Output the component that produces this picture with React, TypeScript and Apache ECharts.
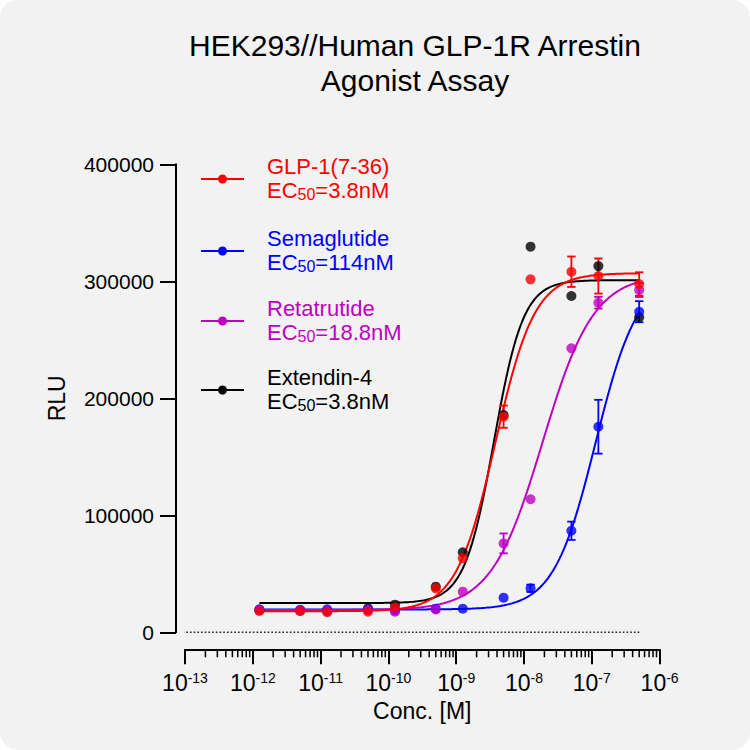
import React, { useEffect, useRef } from "react";
import * as echarts from "echarts";

// ---------- data ----------
const concentrations = [1.25e-12, 5e-12, 1.25e-11, 5e-11, 1.25e-10, 5e-10, 1.25e-9, 5e-9, 1.25e-8, 5e-8, 1.25e-7, 5e-7];

const seriesNames = ["GLP-1(7-36)", "Semaglutide", "Retatrutide", "Extendin-4"];
const ec50Labels = ["3.8nM", "114nM", "18.8nM", "3.8nM"];
const seriesColors = ["#ff0000", "#0000ff", "#c000c0", "#000000"];

const glpMean = [18200, 18200, 17100, 17600, 21400, 37600, 63200, 184300, 301700, 308200, 304500, 297700];
const glpErr = [0, 0, 0, 0, 0, 0, 0, 9500, 0, 13000, 15000, 10000];
const semaMean = [19700, 19200, 19700, 19500, 18600, 20200, 20200, 29600, 37600, 86800, 175700, 274000];
const semaErr = [0, 0, 0, 0, 0, 0, 0, 0, 3100, 7800, 23000, 9000];
const retaMean = [19300, 18800, 18500, 19000, 17600, 19500, 34700, 76000, 113700, 242700, 281700, 292600];
const retaErr = [0, 0, 0, 0, 0, 0, 0, 8500, 0, 0, 5000, 6000];
const exMean = [19000, 18500, 18000, 20500, 23600, 39000, 68400, 185700, 329600, 287400, 313000, 269200];
const exErr = [0, 0, 0, 0, 0, 0, 0, 0, 0, 0, 0, 0];

// four-parameter logistic fit parameters (GLP-1, Sema, Reta, Ex-4)
const fitBottom = [18000, 19500, 19000, 25000];
const fitTop = [307000, 305000, 306000, 301000];
const fitEC50 = [3.8e-9, 1.14e-7, 1.88e-8, 3.6e-9];
const fitHill = [1.5, 1.4, 1.15, 2.0];

const xDecades = [-13, -12, -11, -10, -9, -8, -7, -6];
const yTicks = [0, 100000, 200000, 300000, 400000];

const titleText = "HEK293//Human GLP-1R Arrestin\nAgonist Assay";
const xName = "Conc. [M]";
const yName = "RLU";

// ---------- layout / style ----------
const FONT = '"Liberation Sans", Arial, Helvetica, sans-serif';
const X_OFFSET = 17;

const means = [glpMean, semaMean, retaMean, exMean];
const errs = [glpErr, semaErr, retaErr, exErr];

function fourPL(x: number, i: number) {
  return fitBottom[i] + (fitTop[i] - fitBottom[i]) / (1 + Math.pow(fitEC50[i] / x, fitHill[i]));
}

function curveData(i: number) {
  const lo = Math.log10(concentrations[0]);
  const hi = Math.log10(concentrations[concentrations.length - 1]);
  const n = 200;
  const out: number[][] = [];
  for (let k = 0; k <= n; k++) {
    const x = Math.pow(10, lo + ((hi - lo) * k) / n);
    out.push([x, fourPL(x, i)]);
  }
  return out;
}

const minorTickValues: number[][] = [];
for (let d = 0; d < xDecades.length - 1; d++) {
  for (let k = 2; k <= 9; k++) minorTickValues.push([k * Math.pow(10, xDecades[d]), 0]);
}

function buildSeries() {
  const s: any[] = [];
  // baseline dotted line at y = 0
  s.push({
    type: "line",
    silent: true,
    symbol: "none",
    clip: false,
    data: [[Math.pow(10, xDecades[0]) * 0.92, 0], [concentrations[concentrations.length - 1] * 1.02, 0]],
    lineStyle: { color: "#222", width: 1.6, type: [1.6, 2.1] },
    z: 1,
  });
  // minor ticks of the log axis
  s.push({
    type: "custom",
    silent: true,
    clip: false,
    data: minorTickValues,
    renderItem: (params: any, api: any) => {
      const p = api.coord([api.value(0), 0]);
      const y0 = p[1] + X_OFFSET;
      return {
        type: "line",
        shape: { x1: p[0], y1: y0, x2: p[0], y2: y0 + 8 },
        style: { stroke: "#000", lineWidth: 1.5 },
      };
    },
    z: 5,
  });
  const order = [3, 1, 2, 0];
  order.forEach((i) => {
    const color = seriesColors[i];
    s.push({
      name: seriesNames[i] + " fit",
      type: "line",
      symbol: "none",
      silent: true,
      smooth: false,
      data: curveData(i),
      lineStyle: { color, width: 2 },
      z: 2,
    });
    const errData = concentrations
      .map((c, k) => [c, means[i][k], errs[i][k]])
      .filter((d) => d[2] > 0);
    s.push({
      name: seriesNames[i] + " err",
      type: "custom",
      silent: true,
      data: errData,
      renderItem: (params: any, api: any) => {
        const x = api.value(0);
        const y = api.value(1);
        const e = api.value(2);
        const top = api.coord([x, y + e]);
        const bot = api.coord([x, y - e]);
        const hw = 4.2;
        const st = { stroke: color, lineWidth: 1.8 };
        return {
          type: "group",
          children: [
            { type: "line", shape: { x1: top[0], y1: top[1], x2: bot[0], y2: bot[1] }, style: st },
            { type: "line", shape: { x1: top[0] - hw, y1: top[1], x2: top[0] + hw, y2: top[1] }, style: st },
            { type: "line", shape: { x1: bot[0] - hw, y1: bot[1], x2: bot[0] + hw, y2: bot[1] }, style: st },
          ],
        };
      },
      z: 3,
    });
    s.push({
      name: seriesNames[i],
      type: "scatter",
      symbol: "circle",
      symbolSize: 10,
      data: concentrations.map((c, k) => [c, means[i][k]]),
      itemStyle: { color },
      z: 4,
    });
  });
  return s;
}

function buildGraphic() {
  const g: any[] = [];
  g.push({
    type: "text",
    x: 415,
    y: 62.5,
    style: {
      text: titleText,
      font: `30px ${FONT}`,
      fontSize: 30,
      fontFamily: FONT,
      fill: "#000",
      align: "center",
      textAlign: "center",
      verticalAlign: "middle",
      textVerticalAlign: "middle",
      lineHeight: 35,
    },
  });
  const legendY = [179, 251, 321, 390];
  seriesNames.forEach((name, i) => {
    const cy = legendY[i];
    const color = seriesColors[i];
    g.push({
      type: "line",
      shape: { x1: 201, y1: cy, x2: 244, y2: cy },
      style: { stroke: color, lineWidth: 2 },
    });
    g.push({
      type: "circle",
      shape: { cx: 222.5, cy, r: 4.5 },
      style: { fill: color },
    });
    g.push({
      type: "text",
      x: 267,
      y: cy - 13,
      style: {
        text: name,
        font: `22px ${FONT}`,
        fontSize: 22,
        fontFamily: FONT,
        fill: color,
        align: "left",
        textAlign: "left",
        verticalAlign: "middle",
        textVerticalAlign: "middle",
      },
    });
    g.push({
      type: "text",
      x: 267,
      y: cy + 11,
      style: {
        text: `{a|EC}{s|50}{a|=${ec50Labels[i]}}`,
        fill: color,
        fontFamily: FONT,
        align: "left",
        textAlign: "left",
        verticalAlign: "middle",
        textVerticalAlign: "middle",
        rich: {
          a: { fontSize: 22, fontFamily: FONT, lineHeight: 24, fill: color, color },
          s: { fontSize: 16, fontFamily: FONT, lineHeight: 14, verticalAlign: "bottom", fill: color, color },
        },
      },
    });
  });
  return g;
}

export default function App() {
  const ref = useRef<HTMLDivElement>(null);
  useEffect(() => {
    if (!ref.current) return;
    const chart = echarts.init(ref.current, null, { renderer: "svg" });
    chart.setOption({
      animation: false,
      backgroundColor: "transparent",
      textStyle: { fontFamily: FONT },
      grid: { left: 185, right: 90.4, top: 164.3, bottom: 117.7, containLabel: false },
      xAxis: {
        type: "log",
        logBase: 10,
        min: Math.pow(10, xDecades[0]),
        max: Math.pow(10, xDecades[xDecades.length - 1]),
        splitNumber: xDecades.length - 1,
        offset: X_OFFSET,
        axisLine: { show: true, onZero: false, lineStyle: { color: "#000", width: 2 } },
        axisTick: { show: true, inside: false, length: 15, lineStyle: { color: "#000", width: 2 } },
        minorTick: { show: false },
        splitLine: { show: false },
        axisLabel: {
          margin: 22,
          formatter: (v: number) => `{b|10}{s|${Math.round(Math.log10(v))}}`,
          rich: {
            b: { fontSize: 23, lineHeight: 23, color: "#000", fontFamily: FONT },
            s: { fontSize: 14, lineHeight: 15, verticalAlign: "top", color: "#000", fontFamily: FONT },
          },
        },
        name: xName,
        nameLocation: "middle",
        nameGap: 47,
        nameTextStyle: { fontSize: 23, color: "#000", fontFamily: FONT },
      },
      yAxis: {
        type: "value",
        min: yTicks[0],
        max: yTicks[yTicks.length - 1],
        interval: yTicks[1] - yTicks[0],
        offset: 9,
        axisLine: { show: true, onZero: false, lineStyle: { color: "#000", width: 2 } },
        axisTick: { show: true, inside: false, length: 16, lineStyle: { color: "#000", width: 2 } },
        splitLine: { show: false },
        axisLabel: {
          fontSize: 21,
          color: "#000",
          margin: 22,
          fontFamily: FONT,
          formatter: (v: number) => String(Math.round(v)),
        },
        name: yName,
        nameLocation: "middle",
        nameGap: 108,
        nameTextStyle: { fontSize: 23, color: "#000", fontFamily: FONT },
      },
      series: buildSeries(),
      graphic: buildGraphic(),
    });
    return () => chart.dispose();
  }, []);
  return (
    <div
      style={{
        position: "absolute",
        left: 0,
        top: 0,
        width: 750,
        height: 750,
        background: "#f2f2f2",
        borderRadius: 18,
        overflow: "hidden",
      }}
    >
      <div ref={ref} style={{ width: 750, height: 750 }} />
    </div>
  );
}
